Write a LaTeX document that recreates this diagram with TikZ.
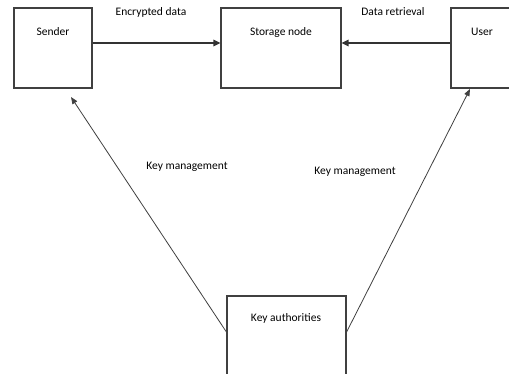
\documentclass[tikz,border=0pt]{standalone}
\usepackage{fontspec}
\setmainfont{Carlito}
\usetikzlibrary{arrows.meta}
\begin{document}
\begin{tikzpicture}[x=1pt,y=-1pt,
  box/.style={draw=black!75,line width=1.2pt,rectangle,inner sep=0pt},
  lbl/.style={font=\fontsize{11.5}{12}\selectfont,inner sep=0pt,text=black},
  conn/.style={draw=black!80,line width=1.3pt,-{Triangle[length=7pt,width=6.5pt]}},
  diag/.style={draw=black!75,line width=0.8pt,-{Triangle[length=7pt,width=5.5pt]}}]
\useasboundingbox (0,0) rectangle (509,374);
\clip (0,0) rectangle (509,374);
\fill[white] (0,0) rectangle (509,374);
% boxes
\node[box,minimum width=78pt,minimum height=80pt] (sender) at (53,48) {};
\node[box,minimum width=120pt,minimum height=80pt] (storage) at (281,48) {};
\node[box,minimum width=80pt,minimum height=80pt] (user) at (491,48) {};
\node[box,minimum width=119pt,minimum height=90pt] (ka) at (286.5,341) {};
% box texts
\node[lbl] (tsender) at (53,32) {Sender};
\node[lbl] (tstorage) at (281,32) {Storage node};
\node[lbl] (tuser) at (482,32) {User};
\node[lbl] (tka) at (286,318) {Key authorities};
% edge labels
\node[lbl] (lenc) at (151,12) {Encrypted data};
\node[lbl] (lret) at (393,12) {Data retrieval};
\node[lbl] (lkm1) at (187,167) {Key management};
\node[lbl] (lkm2) at (355,172) {Key management};
% connectors
\draw[conn] ([yshift=5pt]sender.east) -- ([yshift=5pt]storage.west);
\draw[conn] ([yshift=5pt]user.west) -- ([yshift=5pt]storage.east);
\coordinate (tipS) at (71,97);
\coordinate (tipU) at (470,89);
\draw[diag] ([yshift=9pt]ka.west) -- (tipS);
\draw[diag] ([yshift=9pt]ka.east) -- (tipU);
\end{tikzpicture}
\end{document}
